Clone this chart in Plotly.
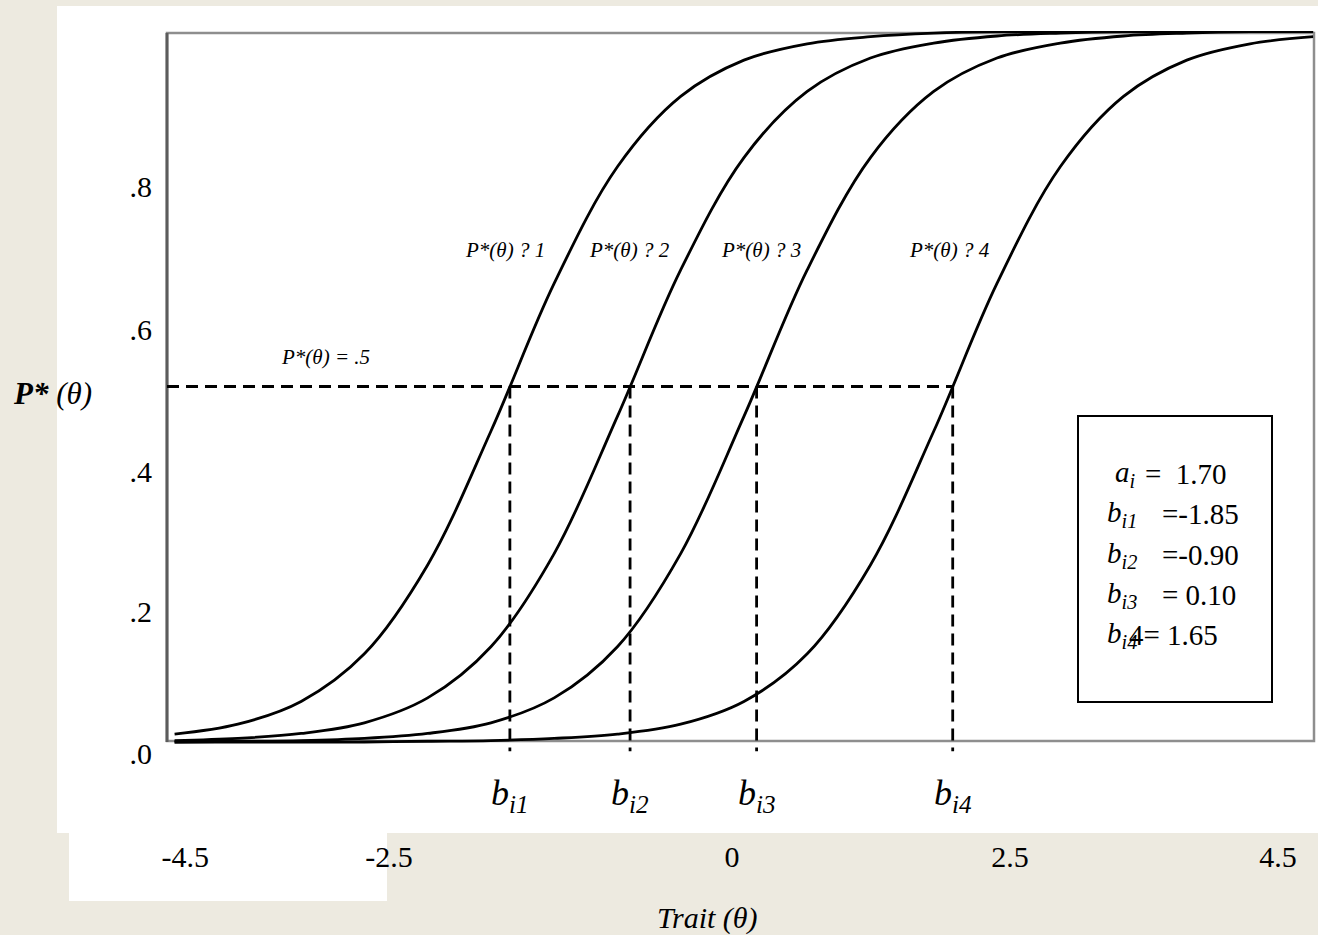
import plotly.graph_objects as go

W, H = 1318, 935

# ---------------- data ----------------
theta = [-4.5, -4.0, -3.5, -3.0, -2.5, -2.0, -1.5, -1.0, -0.5, 0.0,
         0.5, 1.0, 1.5, 2.0, 2.5, 3.0, 3.5, 4.0, 4.5]
p_star_1 = [0.011, 0.025, 0.057, 0.124, 0.249, 0.437, 0.645, 0.809, 0.908, 0.959,
            0.982, 0.992, 0.997, 0.999, 0.999, 1.000, 1.000, 1.000, 1.000]
p_star_2 = [0.002, 0.005, 0.012, 0.027, 0.062, 0.134, 0.265, 0.458, 0.664, 0.822,
            0.915, 0.962, 0.983, 0.993, 0.997, 0.999, 0.999, 1.000, 1.000]
p_star_3 = [0.000, 0.001, 0.002, 0.005, 0.012, 0.027, 0.062, 0.134, 0.265, 0.458,
            0.664, 0.822, 0.915, 0.962, 0.983, 0.993, 0.997, 0.999, 0.999]
p_star_4 = [0.000, 0.000, 0.000, 0.000, 0.001, 0.002, 0.005, 0.011, 0.025, 0.057,
            0.124, 0.249, 0.437, 0.645, 0.809, 0.908, 0.959, 0.982, 0.992]

a_i = 1.70
b_values = [-1.85, -0.90, 0.10, 1.65]
b_names = ["i1", "i2", "i3", "i4"]
p_half = 0.5

x_tick_labels = ["-4.5", "-2.5", "0", "2.5", "4.5"]
x_tick_at = [-4.415, -2.806, -0.095, 2.103, 4.221]
y_tick_labels = [".0", ".2", ".4", ".6", ".8"]
y_tick_at = [-0.0155, 0.184, 0.3805, 0.5795, 0.7806]

curve_labels = ["P*(θ) ? 1", "P*(θ) ? 2", "P*(θ) ? 3", "P*(θ) ? 4"]
curve_label_x = [-1.889, -0.901, 0.134, 1.621]
curve_label_y = 0.692
half_label = "P*(θ) = .5"

# ---------------- helpers ----------------
def px(x):
    return x / W


def py(y):
    return 1 - y / H


FONT = "Liberation Serif"
BEIGE = "#EDEAE0"

fig = go.Figure()

for ys in (p_star_1, p_star_2, p_star_3, p_star_4):
    fig.add_trace(go.Scatter(x=theta, y=ys, mode="lines",
                             line=dict(color="black", width=2.8, shape="spline", smoothing=1.0),
                             hoverinfo="skip"))

dash = "12px,7px"
# horizontal P* = .5 line
fig.add_trace(go.Scatter(x=[-4.56, b_values[-1]], y=[p_half, p_half], mode="lines",
                         line=dict(color="black", width=2.8, dash=dash), hoverinfo="skip"))
# vertical lines at thresholds
for b in b_values:
    fig.add_trace(go.Scatter(x=[b, b], y=[p_half, -0.013], mode="lines",
                             line=dict(color="black", width=2.8, dash=dash), hoverinfo="skip"))

shapes = [
    dict(type="rect", xref="paper", yref="paper", x0=px(57), x1=1.0, y0=py(833), y1=py(6),
         fillcolor="white", line=dict(width=0), layer="below"),
    dict(type="rect", xref="paper", yref="paper", x0=px(69), x1=px(387), y0=py(901), y1=py(832),
         fillcolor="white", line=dict(width=0), layer="below"),
    dict(type="rect", xref="paper", yref="paper", x0=px(167), x1=px(1314), y0=py(741), y1=py(33),
         line=dict(color="#8e8e8e", width=2.5), layer="below"),
    dict(type="line", xref="paper", yref="paper", x0=px(167), x1=px(167), y0=py(742), y1=py(33),
         line=dict(color="#5c5c5c", width=3), layer="below"),
    dict(type="rect", xref="paper", yref="paper", x0=px(1078), x1=px(1272), y0=py(702), y1=py(416),
         line=dict(color="black", width=2), fillcolor="white", layer="above"),
]

ann = []
# curve labels
for lab, lx in zip(curve_labels, curve_label_x):
    ann.append(dict(x=lx, y=curve_label_y, xref="x", yref="y", text=f"<i>{lab}</i>",
                    showarrow=False, font=dict(size=21), xanchor="center", yanchor="middle"))
ann.append(dict(x=-3.304, y=0.5415, xref="x", yref="y", text=f"<i>{half_label}</i>",
                showarrow=False, font=dict(size=21), xanchor="center", yanchor="middle"))

# b labels under the axis
for b, nm in zip(b_values, b_names):
    ann.append(dict(x=b, y=py(795), xref="x", yref="paper",
                    text=f"<i>b</i><sub><i>{nm}</i></sub>", showarrow=False,
                    font=dict(size=36), xanchor="center", yanchor="middle"))

# axis titles
ann.append(dict(x=px(707), y=py(918), xref="paper", yref="paper", text="<i>Trait (θ)</i>",
                showarrow=False, font=dict(size=30), xanchor="center", yanchor="middle"))
ann.append(dict(x=px(52), y=py(393), xref="paper", yref="paper",
                text="<b><i>P*</i></b> <i>(θ)</i>", showarrow=False, font=dict(size=31),
                xanchor="center", yanchor="middle"))

# parameter box
legend_rows = [("<i>a</i><sub><i>i</i></sub>", 1113, f"=  {a_i:.2f}", 1143, 474)]
row_y = [514, 555, 595, 635]
for i, (b, nm) in enumerate(zip(b_values, b_names)):
    sym = f"<i>b</i><sub><i>{nm}</i></sub>"
    if i == 3:
        val, vx = f"4= {b:.2f}", 1127
    elif b < 0:
        val, vx = f"={b:.2f}", 1160
    else:
        val, vx = f"= {b:.2f}", 1160
    legend_rows.append((sym, 1105, val, vx, row_y[i]))
for sym, sx, val, vx, yy in legend_rows:
    ann.append(dict(x=px(sx), y=py(yy), xref="paper", yref="paper", text=sym, showarrow=False,
                    font=dict(size=29), xanchor="left", yanchor="middle"))
    ann.append(dict(x=px(vx), y=py(yy), xref="paper", yref="paper", text=val, showarrow=False,
                    font=dict(size=29), xanchor="left", yanchor="middle"))

fig.update_layout(
    width=W, height=H, autosize=False,
    margin=dict(l=0, r=0, t=0, b=0, pad=0),
    paper_bgcolor=BEIGE, plot_bgcolor="rgba(0,0,0,0)",
    showlegend=False,
    font=dict(family=FONT, color="black"),
    shapes=shapes, annotations=ann,
    xaxis=dict(domain=[px(167), px(1313.3)], range=[-4.56, 4.5], showgrid=False, zeroline=False,
               showline=False, ticks="", tickmode="array", tickvals=x_tick_at,
               ticktext=x_tick_labels, tickfont=dict(size=30, family=FONT, color="black"),
               ticklabelstandoff=80, automargin=False),
    yaxis=dict(domain=[py(756.2), py(31)], range=[-0.02, 1.0], showgrid=False, zeroline=False,
               showline=False, ticks="", tickmode="array", tickvals=y_tick_at,
               ticktext=y_tick_labels, tickfont=dict(size=30, family=FONT, color="black"),
               ticklabelstandoff=14, automargin=False),
)

fig.write_html("out.html")
